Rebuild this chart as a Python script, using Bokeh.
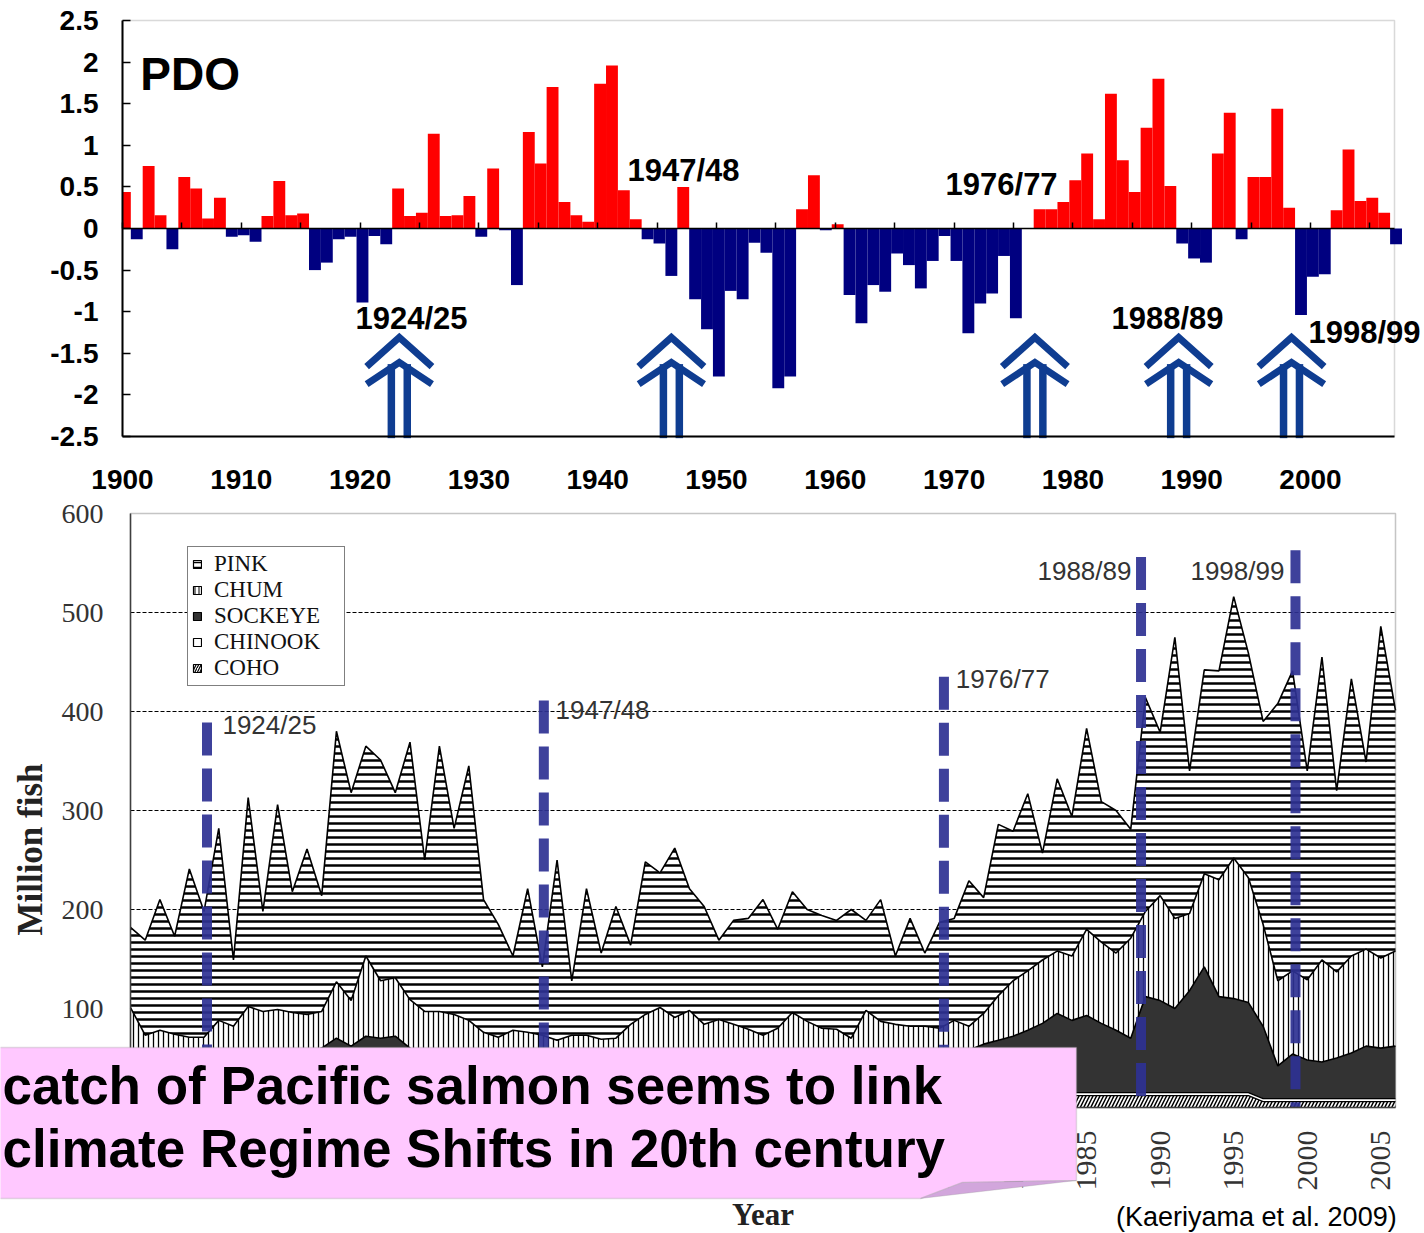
import math
from bokeh.plotting import figure
from bokeh.layouts import column
from bokeh.models import (ColumnDataSource, FixedTicker, SingleIntervalTicker, LinearAxis, Label,
                          PolyAnnotation, BoxAnnotation, Legend, LegendItem, CustomJSTickFormatter,
                          Range1d)
from bokeh.transform import stack
from bokeh.embed import file_html
from bokeh.resources import INLINE

# ---------------- data: PDO index (annual) ----------------
pdo_years = list(range(1900, 2008))
pdo_index = [
    0.44, -0.13, 0.75, 0.16, -0.25, 0.62, 0.48, 0.12, 0.37, -0.10,
    -0.08, -0.16, 0.15, 0.57, 0.16, 0.18, -0.50, -0.41, -0.13, -0.10,
    -0.89, -0.09, -0.19, 0.48, 0.15, 0.19, 1.14, 0.15, 0.16, 0.39,
    -0.10, 0.72, -0.02, -0.68, 1.16, 0.78, 1.70, 0.32, 0.16, 0.08,
    1.74, 1.96, 0.46, 0.11, -0.13, -0.18, -0.57, 0.50, -0.85, -1.21,
    -1.78, -0.75, -0.85, -0.17, -0.29, -1.92, -1.78, 0.23, 0.64, -0.02,
    0.05, -0.80, -1.14, -0.68, -0.76, -0.30, -0.44, -0.72, -0.39, -0.09,
    -0.39, -1.26, -0.90, -0.78, -0.33, -1.08, 0.00, 0.23, 0.23, 0.32,
    0.58, 0.90, 0.11, 1.62, 0.82, 0.44, 1.21, 1.80, 0.51, -0.18,
    -0.36, -0.41, 0.90, 1.39, -0.13, 0.62, 0.62, 1.44, 0.25, -1.04,
    -0.58, -0.55, 0.22, 0.95, 0.33, 0.37, 0.19, -0.19,
]
pdo_ticks = [-2.5, -2, -1.5, -1, -0.5, 0, 0.5, 1, 1.5, 2, 2.5]
pdo_tick_labels = ["-2.5", "-2", "-1.5", "-1", "-0.5", "0", "0.5", "1", "1.5", "2", "2.5"]
pdo_year_ticks = [1900, 1910, 1920, 1930, 1940, 1950, 1960, 1970, 1980, 1990, 2000]
pdo_x_extent = (1900, 2007.07)
pdo_y_extent = (-2.5, 2.5)

regime_labels = ["1924/25", "1947/48", "1976/77", "1988/89", "1998/99"]
# PDO panel: label anchor (left x in years, vertical centre in PDO units) and arrow position (year)
pdo_label_x = [1919.61, 1942.51, 1969.28, 1983.25, 1999.83]
pdo_label_y = [-1.076, 0.697, 0.523, -1.076, -1.256]
pdo_arrow_x = [1923.3, 1946.2, 1976.8, 1988.9, 1998.4]

# ---------------- data: Pacific salmon catch (million fish) ----------------
catch_years = list(range(1920, 2007))
pink = [
    81, 96, 132, 99, 170, 127, 194, 67, 211, 101,
    207, 122, 167, 117, 253, 210, 212, 223, 187, 260,
    153, 268, 188, 257, 134, 114, 75, 145, 69, 182,
    55, 148, 87, 133, 80, 154, 136, 171, 123, 119,
    80, 105, 112, 137, 100, 122, 113, 114, 110, 130,
    91, 123, 69, 109, 74, 107, 103, 147, 117, 173,
    151, 179, 108, 174, 141, 203, 142, 144, 110, 216,
    165, 284, 144, 206, 211, 264, 227, 205, 280, 303,
    211, 306, 183, 280, 189, 335, 243,
]
chum = [
    53, 28, 34, 28, 23, 21, 36, 32, 50, 47,
    47, 42, 39, 37, 57, 46, 81, 58, 59, 49,
    45, 47, 46, 42, 32, 29, 34, 30, 29, 26,
    33, 31, 25, 24, 36, 44, 49, 41, 46, 34,
    41, 38, 31, 27, 32, 46, 39, 34, 31, 24,
    48, 35, 34, 30, 32, 28, 33, 24, 31, 45,
    56, 60, 64, 63, 65, 87, 82, 78, 101, 86,
    106, 91, 78, 94, 118, 142, 126, 103, 86, 84,
    81, 103, 87, 98, 98, 91, 96,
]
sockeye = [
    36, 33, 32, 34, 36, 38, 40, 38, 40, 38,
    40, 42, 43, 48, 58, 50, 60, 58, 60, 48,
    40, 38, 36, 34, 32, 30, 32, 34, 32, 30,
    28, 30, 32, 34, 36, 38, 40, 38, 40, 38,
    36, 34, 36, 34, 36, 38, 36, 34, 36, 34,
    38, 40, 38, 40, 38, 40, 43, 43, 49, 53,
    57, 63, 70, 80, 73, 78, 70, 63, 55, 97,
    93, 85, 103, 127, 97, 95, 91, 73, 33, 45,
    39, 37, 41, 46, 53, 51, 53,
]
chinook = [
    3, 3, 3, 3, 3, 3, 3, 3, 3, 3,
    3, 3, 3, 3, 3, 3, 3, 3, 3, 3,
    3, 3, 3, 3, 3, 3, 3, 3, 3, 3,
    3, 3, 3, 3, 3, 3, 3, 3, 3, 3,
    3, 3, 3, 3, 3, 3, 3, 3, 3, 3,
    3, 3, 3, 3, 3, 3, 3, 3, 3, 3,
    3, 3, 3, 3, 3, 3, 3, 3, 3, 3,
    3, 3, 3, 3, 3, 3, 3, 3, 3, 3,
    3, 3, 3, 3, 3, 3, 3,
]
coho = [
    9, 9, 9, 9, 9, 9, 9, 9, 9, 9,
    9, 9, 9, 9, 9, 9, 9, 9, 9, 9,
    9, 9, 9, 9, 9, 9, 9, 9, 9, 9,
    9, 9, 9, 9, 9, 9, 9, 9, 9, 9,
    9, 9, 9, 9, 9, 9, 9, 9, 9, 9,
    9, 9, 9, 9, 9, 9, 9, 12, 12, 12,
    12, 12, 12, 12, 12, 12, 12, 12, 12, 12,
    12, 12, 12, 12, 12, 12, 12, 6, 6, 6,
    6, 6, 6, 6, 6, 6, 6,
]
catch_ticks = [0, 100, 200, 300, 400, 500, 600]
catch_grid = [100, 200, 300, 400, 500]
catch_x_extent = (1920, 2006)
catch_y_extent = (0, 600)
species_order = ["coho", "chinook", "sockeye", "chum", "pink"]       # stacking order (bottom -> top)
legend_order = ["PINK", "CHUM", "SOCKEYE", "CHINOOK", "COHO"]

# regime-shift markers in catch panel
catch_shift_x = [1925.2, 1948.1, 1975.3, 1988.7, 1999.2]
catch_shift_top = [389, 411, 435, 556, 563]
catch_label_x = [1926.25, 1948.9, 1976.1, 1981.66, 1992.06]
catch_label_y = [385.9, 402.0, 433.3, 542.4, 542.4]

SANS = "Liberation Sans"
SERIF = "Liberation Serif"
ARROW_BLUE = "#0F3D91"
W = 1424
TOP_H = 497          # height of PDO canvas
BOT_Y0 = TOP_H       # page y where the catch canvas starts
BOT_H = 1233 - TOP_H

# ======================= PDO panel =======================
# whole canvas is the frame; axes are placed with fixed_location
PX_YR1 = 1272 / (pdo_x_extent[1] - pdo_x_extent[0])
PX_U1 = 416 / 5.0
p1 = figure(width=W, height=TOP_H,
            x_range=Range1d(1900 - 122 / PX_YR1, 1900 + (W - 122) / PX_YR1),
            y_range=Range1d(-2.5 - (TOP_H - 436) / PX_U1, 2.5 + 20 / PX_U1),
            x_axis_location=None, y_axis_location=None, min_border=0,
            output_backend="svg", toolbar_location=None, outline_line_color=None,
            background_fill_color="white", border_fill_color="white")
p1.grid.visible = False

p1.add_layout(BoxAnnotation(left=pdo_x_extent[0], right=pdo_x_extent[1],
                            bottom=pdo_y_extent[0], top=pdo_y_extent[1],
                            fill_color=None, line_color="#808080", line_width=1.5, level="underlay"))

src1 = ColumnDataSource(dict(
    left=[max(y - 0.3, pdo_x_extent[0]) for y in pdo_years],
    right=[y + 0.7 for y in pdo_years],
    top=pdo_index,
    color=["#FF0000" if v > 0 else "#000080" for v in pdo_index],
))
p1.quad(left="left", right="right", top="top", bottom=0, fill_color="color", line_color=None, source=src1)

bottom_ax = LinearAxis(fixed_location=pdo_y_extent[0], bounds=pdo_x_extent,
                       ticker=FixedTicker(ticks=pdo_year_ticks),
                       major_tick_in=0, major_tick_out=0, minor_tick_in=0, minor_tick_out=0,
                       axis_line_color="black", axis_line_width=2,
                       major_label_text_font=SANS, major_label_text_font_style="bold",
                       major_label_text_font_size="28px", major_label_text_color="black",
                       major_label_standoff=33)
p1.add_layout(bottom_ax, "below")

zero_axis = LinearAxis(fixed_location=0, bounds=pdo_x_extent,
                       ticker=FixedTicker(ticks=list(range(1900, 2006, 5))),
                       formatter=CustomJSTickFormatter(code="return ''"),
                       major_tick_in=6, major_tick_out=0, minor_tick_in=0, minor_tick_out=0,
                       axis_line_color="black", axis_line_width=1.5,
                       major_tick_line_color="black", major_tick_line_width=1.5)
p1.add_layout(zero_axis, "below")

left_ax = LinearAxis(fixed_location=pdo_x_extent[0], bounds=pdo_y_extent,
                     ticker=FixedTicker(ticks=pdo_ticks),
                     major_label_overrides={t: l for t, l in zip(pdo_ticks, pdo_tick_labels)},
                     major_tick_in=8, major_tick_out=0, minor_tick_in=0, minor_tick_out=0,
                     major_tick_line_width=1.5, axis_line_color="black", axis_line_width=2,
                     major_label_text_font=SANS, major_label_text_font_style="bold",
                     major_label_text_font_size="28px", major_label_text_color="black",
                     major_label_standoff=24)
p1.add_layout(left_ax, "left")

# regime-shift arrows (double chevron + double stem)
outer_xs, outer_ys, inner_xs, inner_ys, stem_x0, stem_x1 = [], [], [], [], [], []
for ax in pdo_arrow_x:
    outer_xs.append([ax - 2.75, ax, ax + 2.75])
    outer_ys.append([-1.66, -1.31, -1.66])
    inner_xs.append([ax - 2.75, ax, ax + 2.75])
    inner_ys.append([-1.87, -1.61, -1.87])
    stem_x0.append(ax - 0.67)
    stem_x1.append(ax + 0.67)
p1.multi_line(xs=outer_xs, ys=outer_ys, line_color=ARROW_BLUE, line_width=7, line_join="miter")
p1.multi_line(xs=inner_xs, ys=inner_ys, line_color=ARROW_BLUE, line_width=7, line_join="miter")
p1.segment(x0=stem_x0, y0=[-1.63] * 5, x1=stem_x0, y1=[-2.52] * 5, line_color=ARROW_BLUE, line_width=7.5)
p1.segment(x0=stem_x1, y0=[-1.63] * 5, x1=stem_x1, y1=[-2.52] * 5, line_color=ARROW_BLUE, line_width=7.5)

p1.add_layout(Label(x=1901.5, y=1.857, text="PDO", text_font=SANS, text_font_style="bold",
                    text_font_size="46px", text_baseline="middle", text_color="black"))
for lx, ly, txt in zip(pdo_label_x, pdo_label_y, regime_labels):
    p1.add_layout(Label(x=lx, y=ly, text=txt, text_font=SANS, text_font_style="bold",
                        text_font_size="31px", text_baseline="middle", text_color="black"))

# ======================= Salmon catch panel =======================
PX_YR2 = 1265 / (catch_x_extent[1] - catch_x_extent[0])
PX_U2 = 594 / 600.0
p2 = figure(width=W, height=BOT_H,
            x_range=Range1d(1920 - 130 / PX_YR2, 1920 + (W - 130) / PX_YR2),
            y_range=Range1d(-126 / PX_U2, 600 + (513 - BOT_Y0) / PX_U2),
            x_axis_location=None, y_axis_location=None, min_border=0,
            output_backend="svg", toolbar_location=None, outline_line_color=None,
            background_fill_color="white", border_fill_color="white")
p2.grid.visible = False

# dashed horizontal reference lines (behind areas)
p2.segment(x0=[catch_x_extent[0]] * len(catch_grid), x1=[catch_x_extent[1]] * len(catch_grid),
           y0=catch_grid, y1=catch_grid, line_color="black", line_dash="4 2", line_width=1.2)

src2 = ColumnDataSource(dict(year=catch_years, coho=coho, chinook=chinook,
                             sockeye=sockeye, chum=chum, pink=pink))

styles = {
    "coho": dict(fill_color="white", hatch_pattern="right_diagonal_line", hatch_color="black",
                 hatch_weight=1.5, hatch_scale=7),
    "chinook": dict(fill_color="white"),
    "sockeye": dict(fill_color="#333333"),
    "chum": dict(fill_color="white", hatch_pattern="vertical_line", hatch_color="black",
                 hatch_weight=1.3, hatch_scale=5),
    "pink": dict(fill_color="white", hatch_pattern="horizontal_line", hatch_color="black",
                 hatch_weight=2.5, hatch_scale=7),
}
legend_styles = {
    "coho": dict(fill_color="white", hatch_pattern="right_diagonal_line", hatch_color="black",
                 hatch_weight=1.2, hatch_scale=5),
    "chinook": dict(fill_color="white"),
    "sockeye": dict(fill_color="#333333"),
    "chum": dict(fill_color="white", hatch_pattern="vertical_line", hatch_color="black",
                 hatch_weight=1.0, hatch_scale=4),
    "pink": dict(fill_color="white", hatch_pattern="horizontal_line", hatch_color="black",
                 hatch_weight=1.5, hatch_scale=5),
}
for i, name in enumerate(species_order):
    y1 = stack(*species_order[:i]) if i > 0 else 0
    y2 = stack(*species_order[:i + 1])
    p2.varea(x="year", y1=y1, y2=y2, source=src2, **styles[name])
for i, name in enumerate(species_order):
    p2.line(x="year", y=stack(*species_order[:i + 1]), source=src2,
            line_color="black", line_width=1.3 if i < 2 else 1.6)

# legend proxies (a single NaN quad each, so swatches get a black outline but nothing is drawn)
proxy = {}
nan = float("nan")
for name in species_order:
    proxy[name] = p2.quad(left=[nan], right=[nan], top=[nan], bottom=[nan], line_color="black",
                          line_width=1.2, **legend_styles[name])

p2.add_layout(BoxAnnotation(left=catch_x_extent[0], right=catch_x_extent[1],
                            bottom=catch_y_extent[0], top=catch_y_extent[1],
                            fill_color=None, line_color="#404040", line_width=1.5))

# regime-shift dashed lines
p2.segment(x0=catch_shift_x, y0=catch_shift_top, x1=catch_shift_x, y1=[0] * 5,
           line_color="#2E3192", line_width=10, line_dash="33 13", line_alpha=0.92)
for lx, ly, txt in zip(catch_label_x, catch_label_y, regime_labels):
    p2.add_layout(Label(x=lx, y=ly, text=txt, text_font=SANS, text_font_size="26px",
                        text_baseline="middle", text_color="#333333"))

xb = LinearAxis(fixed_location=catch_y_extent[0], bounds=catch_x_extent,
                ticker=SingleIntervalTicker(interval=5),
                major_label_orientation=math.pi / 2,
                major_tick_in=0, major_tick_out=0, minor_tick_in=0, minor_tick_out=0,
                axis_line_color="#404040", axis_line_width=1.5,
                major_label_text_font=SERIF, major_label_text_font_size="30px",
                major_label_text_color="#333333", major_label_standoff=23)
p2.add_layout(xb, "below")

yb = LinearAxis(fixed_location=catch_x_extent[0], bounds=catch_y_extent,
                ticker=FixedTicker(ticks=catch_ticks),
                major_tick_in=0, major_tick_out=0, minor_tick_in=0, minor_tick_out=0,
                axis_line_color="#404040", axis_line_width=1.5,
                major_label_text_font=SERIF, major_label_text_font_size="28px",
                major_label_text_color="#333333", major_label_standoff=27)
p2.add_layout(yb, "left")

p2.add_layout(Label(x=1913.2, y=260.6, text="Million fish", angle=math.pi / 2,
                    text_align="center", text_baseline="middle", text_font=SERIF,
                    text_font_style="bold", text_font_size="35px", text_color="#222222"))
p2.add_layout(Label(x=1963.0, y=-108.1, text="Year", text_align="center",
                    text_baseline="middle", text_font=SERIF, text_font_style="bold",
                    text_font_size="31px", text_color="#222222"))

legend = Legend(items=[LegendItem(label=lab, renderers=[proxy[lab.lower()]]) for lab in legend_order],
                location=(187, 1233 - 686), orientation="vertical",
                label_text_font=SERIF, label_text_font_size="23px", label_text_color="#111111",
                label_height=24, label_width=126, label_text_line_height=1.0,
                glyph_width=10, glyph_height=10, label_standoff=12,
                padding=4, spacing=0, margin=0,
                border_line_color="black", border_line_width=1.5,
                background_fill_color="white", background_fill_alpha=1.0)
p2.add_layout(legend)

p2.add_layout(Label(x=1987.0, y=-111.1, text="(Kaeriyama et al. 2009)", text_font=SANS,
                    text_font_size="27px", text_baseline="middle", text_color="black"))

# callout box
p2.add_layout(PolyAnnotation(
    xs=[1910.0, 1984.31, 1984.31, 1976.56, 1973.71, 1910.0],
    ys=[60.6, 60.6, -73.7, -75.8, -91.9, -91.9],
    fill_color="#FFC8FF", fill_alpha=1.0, line_color="#9A9A9A", line_width=1.5, level="overlay"))
p2.add_layout(PolyAnnotation(
    xs=[1973.71, 1976.56, 1984.31],
    ys=[-91.9, -75.8, -73.7],
    fill_color="#D2A6DC", fill_alpha=1.0, line_color="#9A9A9A", line_width=1, level="overlay"))
for ty, txt in zip([22.2, -41.4], ["catch of Pacific salmon seems to link",
                                   "climate Regime Shifts in 20th century"]):
    p2.add_layout(Label(x=1911.3, y=ty, text=txt, text_font=SANS, text_font_style="bold",
                        text_font_size="53px", text_baseline="middle", text_color="black",
                        level="overlay"))

layout = column(p1, p2, spacing=0)
open("out.html", "w").write(file_html(layout, INLINE))
